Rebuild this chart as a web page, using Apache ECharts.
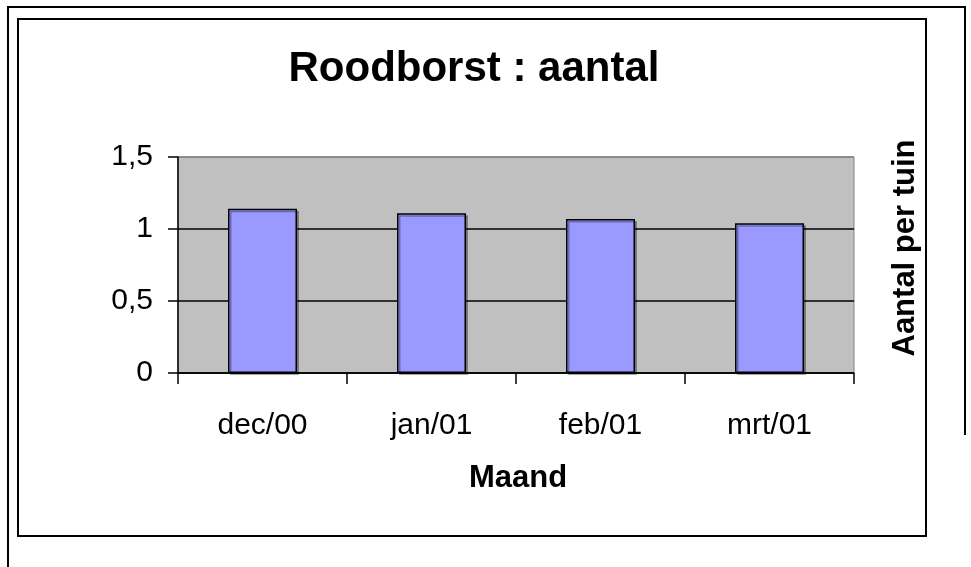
<!DOCTYPE html>
<html>
<head>
<meta charset="utf-8">
<script src="https://cdn.jsdelivr.net/npm/echarts@6/dist/echarts.min.js"></script>
<style>html,body{margin:0;padding:0;background:#fff;}#c{width:971px;height:567px;}</style>
</head>
<body>
<div id="c"></div>
<script>
var categories = ['dec/00', 'jan/01', 'feb/01', 'mrt/01'];
var values = [1.14, 1.11, 1.07, 1.04];
var titleText = 'Roodborst : aantal';
var xName = 'Maand';
var yName = 'Aantal per tuin';

var FONT = '"Liberation Sans", Arial, sans-serif';
var chart = echarts.init(document.getElementById('c'), null, {renderer: 'canvas'});
chart.setOption({
  animation: false,
  backgroundColor: '#fff',
  grid: {left: 178, top: 157, width: 676, height: 216, show: true, backgroundColor: '#C0C0C0', borderColor: '#808080', borderWidth: 1},
  xAxis: {
    type: 'category', data: categories,
    axisLine: {lineStyle: {color: '#000', width: 1.5}},
    axisTick: {show: true, alignWithLabel: false, interval: 0, length: 11, lineStyle: {color: '#000', width: 1.5}},
    axisLabel: {color: '#000', fontFamily: FONT, fontSize: 30, margin: 38, interval: 0},
    splitLine: {show: false}
  },
  yAxis: {
    type: 'value', min: 0, max: 1.5, interval: 0.5,
    axisLine: {show: true, lineStyle: {color: '#000', width: 1.5}},
    axisTick: {show: true, length: 10, lineStyle: {color: '#000', width: 1.5}},
    axisLabel: {color: '#000', fontFamily: FONT, fontSize: 30, margin: 25,
      formatter: function (v) { return String(v).replace('.', ','); }},
    splitLine: {show: true, lineStyle: {color: ['#000', '#000', '#000', '#808080'], width: 1.5}}
  },
  series: [{
    type: 'bar', data: values, barWidth: 69,
    itemStyle: {color: '#9999FF', borderColor: '#000', borderWidth: 1.5,
      shadowColor: 'rgba(0,0,0,0.3)', shadowOffsetX: 2, shadowOffsetY: 2, shadowBlur: 0}
  }],
  graphic: [
    {type: 'polyline', shape: {points: [[8, 567], [8, 7], [965, 7], [965, 435]]}, style: {stroke: '#000', lineWidth: 2, fill: null}, silent: true},
    {type: 'rect', shape: {x: 18, y: 19, width: 908, height: 517}, style: {stroke: '#000', lineWidth: 2, fill: null}, silent: true},
    {type: 'text', x: 474, y: 69, style: {text: titleText, font: 'bold 42px ' + FONT, fill: '#000', align: 'center', verticalAlign: 'middle'}},
    {type: 'text', x: 518, y: 478, style: {text: xName, font: 'bold 31px ' + FONT, fill: '#000', align: 'center', verticalAlign: 'middle'}},
    {type: 'text', x: 905, y: 248, rotation: Math.PI / 2, style: {text: yName, font: 'bold 31px ' + FONT, fill: '#000', align: 'center', verticalAlign: 'middle'}}
  ]
});
</script>
</body>
</html>
